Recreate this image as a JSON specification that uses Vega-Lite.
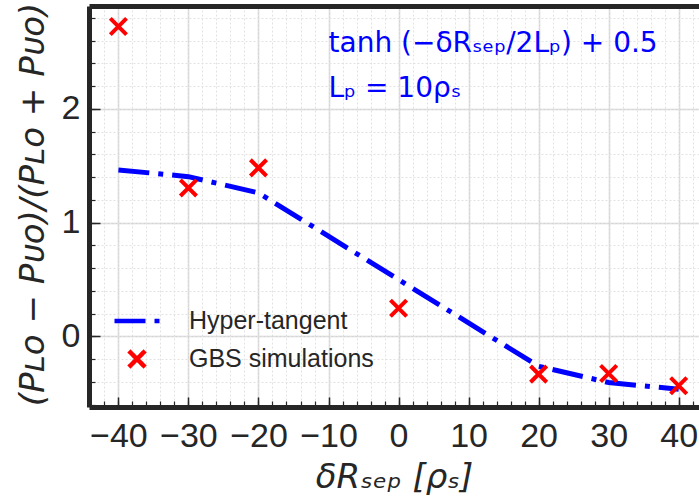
{
  "$schema": "https://vega.github.io/schema/vega-lite/v6.json",
  "width": 610,
  "height": 401,
  "autosize": {"type": "none"},
  "padding": {"left": 89, "top": 6, "right": 0, "bottom": 92},
  "background": "white",
  "config": {"view": {"stroke": null}},
  "datasets": {
    "tanh": [
      {"dR": -40, "ratio": 1.464, "series": "Hyper-tangent"},
      {"dR": -30, "ratio": 1.405, "series": "Hyper-tangent"},
      {"dR": -20, "ratio": 1.262, "series": "Hyper-tangent"},
      {"dR": 0, "ratio": 0.5, "series": "Hyper-tangent"},
      {"dR": 20, "ratio": -0.262, "series": "Hyper-tangent"},
      {"dR": 30, "ratio": -0.405, "series": "Hyper-tangent"},
      {"dR": 40, "ratio": -0.464, "series": "Hyper-tangent"}
    ],
    "gbs": [
      {"dR": -40, "ratio": 2.725, "series": "GBS simulations"},
      {"dR": -30, "ratio": 1.306, "series": "GBS simulations"},
      {"dR": -20, "ratio": 1.482, "series": "GBS simulations"},
      {"dR": 0, "ratio": 0.248, "series": "GBS simulations"},
      {"dR": 20, "ratio": -0.331, "series": "GBS simulations"},
      {"dR": 30, "ratio": -0.325, "series": "GBS simulations"},
      {"dR": 40, "ratio": -0.433, "series": "GBS simulations"}
    ]
  },
  "layer": [
    {
      "data": {"name": "tanh"},
      "mark": {"type": "line", "strokeWidth": 5, "strokeCap": "butt"},
      "encoding": {
        "x": {
          "field": "dR", "type": "quantitative",
          "scale": {"domain": [-44.2, 42.9], "nice": false, "zero": false},
          "axis": {
            "orient": "bottom", "values": [-40, -30, -20, -10, 0, 10, 20, 30, 40],
            "title": "δRₛₑₚ [ρₛ]", "titleFont": "DejaVu Sans", "titleFontSize": 34, "titleFontStyle": "italic", "titleFontWeight": "normal", "titleColor": "#262626", "titleY": 80, "titleBaseline": "alphabetic",
            "ticks": false,
            "domainColor": "#262626", "domainWidth": 5,
            "grid": true, "gridColor": "#d4d4d4", "gridWidth": 1.5,
            "labelFont": "Liberation Sans", "labelFontSize": 34, "labelColor": "#262626", "labelPadding": 12, "labelFlush": false, "labelOverlap": false
          }
        },
        "y": {
          "field": "ratio", "type": "quantitative",
          "scale": {"domain": [-0.62, 2.905], "nice": false, "zero": false},
          "axis": {
            "orient": "left", "values": [0, 1, 2],
            "title": "(Pʟᴏ − Pᴜᴏ)/(Pʟᴏ + Pᴜᴏ)", "titleFont": "DejaVu Sans", "titleFontSize": 34, "titleFontStyle": "italic", "titleFontWeight": "normal", "titleColor": "#262626", "titleX": -56, "titleY": 198, "titleAngle": -90, "titleAlign": "center", "titleBaseline": "middle",
            "ticks": false,
            "domainColor": "#262626", "domainWidth": 5,
            "grid": true, "gridColor": "#d4d4d4", "gridWidth": 1.5,
            "labelFont": "Liberation Sans", "labelFontSize": 34, "labelColor": "#262626", "labelPadding": 9, "labelFlush": false, "labelOverlap": false
          }
        },
        "color": {
          "field": "series", "type": "nominal",
          "scale": {"domain": ["Hyper-tangent", "GBS simulations"], "range": ["#0000ff", "#ff0000"]},
          "legend": {"title": null, "orient": "none", "legendX": 23, "legendY": 290, "symbolSize": 2025, "symbolStrokeWidth": 4.5, "labelFont": "Liberation Sans", "labelFontSize": 25, "labelLimit": 400, "labelColor": "#262626", "labelOffset": 27, "rowPadding": -3, "padding": 0}
        },
        "strokeDash": {
          "field": "series", "type": "nominal",
          "scale": {"domain": ["Hyper-tangent", "GBS simulations"], "range": [[31, 9, 5, 9], [1, 0]]},
          "legend": {"title": null, "orient": "none", "legendX": 23, "legendY": 290, "symbolSize": 2025, "symbolStrokeWidth": 4.5, "labelFont": "Liberation Sans", "labelFontSize": 25, "labelLimit": 400, "labelColor": "#262626", "labelOffset": 27, "rowPadding": -3, "padding": 0}
        }
      }
    },
    {
      "data": {"name": "gbs"},
      "mark": {"type": "point", "filled": false, "size": 2025, "strokeWidth": 4, "opacity": 1},
      "encoding": {
        "x": {
          "field": "dR", "type": "quantitative",
          "axis": {
            "orient": "bottom",
            "values": [-44, -42, -40, -38, -36, -34, -32, -30, -28, -26, -24, -22, -20, -18, -16, -14, -12, -10, -8, -6, -4, -2, 0, 2, 4, 6, 8, 10, 12, 14, 16, 18, 20, 22, 24, 26, 28, 30, 32, 34, 36, 38, 40, 42],
            "labels": false, "domain": false, "title": null,
            "tickSize": -6, "tickWidth": 1.2, "tickColor": "#262626",
            "grid": true, "gridDash": [2, 2], "gridColor": "#e2e2e2", "gridWidth": 1
          }
        },
        "y": {
          "field": "ratio", "type": "quantitative",
          "axis": {
            "orient": "left",
            "values": [-0.6, -0.4, -0.2, 0, 0.2, 0.4, 0.6, 0.8, 1, 1.2, 1.4, 1.6, 1.8, 2, 2.2, 2.4, 2.6, 2.8],
            "labels": false, "domain": false, "title": null,
            "tickSize": -6, "tickWidth": 1.2, "tickColor": "#262626",
            "grid": true, "gridDash": [2, 2], "gridColor": "#e2e2e2", "gridWidth": 1
          }
        },
        "color": {
          "field": "series", "type": "nominal",
          "scale": {"domain": ["Hyper-tangent", "GBS simulations"], "range": ["#0000ff", "#ff0000"]},
          "legend": {"title": null, "orient": "none", "legendX": 23, "legendY": 290, "symbolSize": 2025, "symbolStrokeWidth": 4.5, "labelFont": "Liberation Sans", "labelFontSize": 25, "labelLimit": 400, "labelColor": "#262626", "labelOffset": 27, "rowPadding": -3, "padding": 0}
        },
        "shape": {
          "field": "series", "type": "nominal",
          "scale": {"domain": ["Hyper-tangent", "GBS simulations"], "range": ["stroke", "M-0.36,-0.36L0.36,0.36M-0.36,0.36L0.36,-0.36"]},
          "legend": {"title": null, "orient": "none", "legendX": 23, "legendY": 290, "symbolSize": 2025, "symbolStrokeWidth": 4.5, "labelFont": "Liberation Sans", "labelFontSize": 25, "labelLimit": 400, "labelColor": "#262626", "labelOffset": 27, "rowPadding": -3, "padding": 0}
        }
      }
    },
    {
      "data": {"values": [{}]},
      "mark": {"type": "text", "align": "left", "baseline": "middle", "font": "DejaVu Sans", "fontSize": 28, "color": "#0000ff"},
      "encoding": {
        "x": {"datum": -10, "type": "quantitative", "axis": {"orient": "top", "domain": true, "domainWidth": 5, "domainColor": "#262626", "ticks": false, "labels": false, "grid": false, "title": null}},
        "y": {"datum": 2.567, "type": "quantitative", "axis": null},
        "text": {"value": "tanh (−δRₛₑₚ/2Lₚ) + 0.5"}
      }
    },
    {
      "data": {"values": [{}]},
      "mark": {"type": "text", "align": "left", "baseline": "middle", "font": "DejaVu Sans", "fontSize": 28, "color": "#0000ff"},
      "encoding": {
        "x": {"datum": -10, "type": "quantitative", "axis": {"orient": "bottom", "values": [-40, -30, -20, -10, 0, 10, 20, 30, 40], "labels": false, "domain": false, "grid": false, "title": null, "tickSize": -10, "tickWidth": 1.5, "tickColor": "#262626"}},
        "y": {"datum": 2.172, "type": "quantitative", "axis": {"orient": "left", "values": [0, 1, 2], "labels": false, "domain": false, "grid": false, "title": null, "tickSize": -11, "tickWidth": 1.5, "tickColor": "#262626"}},
        "text": {"value": "Lₚ = 10ρₛ"}
      }
    }
  ],
  "resolve": {"axis": {"x": "independent", "y": "independent"}}
}
